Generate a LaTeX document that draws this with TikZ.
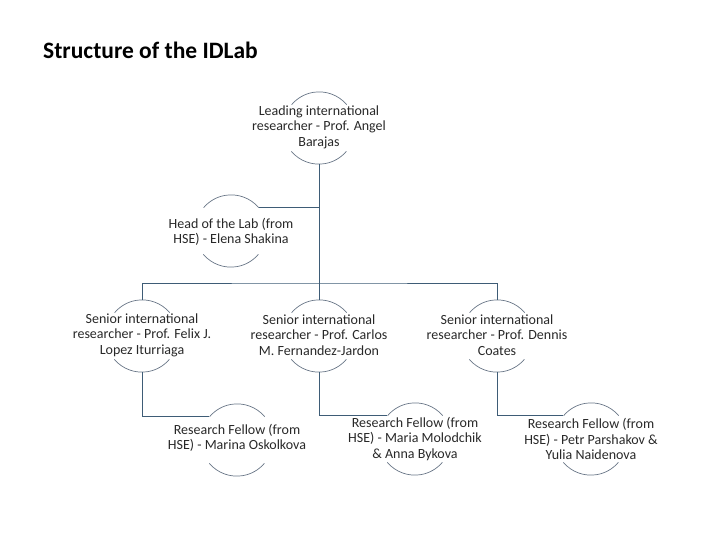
\documentclass[tikz,border=0pt]{standalone}
\usepackage{fontspec}
\setmainfont{Carlito}
\definecolor{conn}{RGB}{62,92,118}
\definecolor{arcc}{RGB}{105,118,135}
\definecolor{txt}{RGB}{40,40,40}
\begin{document}
\begin{tikzpicture}[x=1pt,y=-1pt,
  holder/.style={circle,draw=none,inner sep=0pt,minimum size=72pt},
  lbl/.style={align=center,font=\fontsize{14}{15.5}\selectfont,text=txt,inner sep=0pt},
  conline/.style={draw=conn,line width=0.9pt},
  arcline/.style={draw=arcc,line width=0.7pt}]
\useasboundingbox (0,0) rectangle (720,540);
\node[anchor=base west,font=\bfseries\fontsize{23.5}{26}\selectfont,text=black,inner sep=0pt] (title) at (43,59) {Structure of the IDLab};

\node[holder] (lead) at (319,128) {};
\node[holder] (head) at (231,231) {};
\node[holder] (sen1) at (142,336) {};
\node[holder] (sen2) at (319,336) {};
\node[holder] (sen3) at (497,336) {};
\node[holder] (rf1) at (237,440) {};
\node[holder] (rf2) at (415,439) {};
\node[holder] (rf3) at (591,439) {};

\foreach \n in {lead,head,sen1,sen2,sen3,rf1,rf2,rf3}{
  \draw[arcline] (\n.40) arc[start angle=40,end angle=140,radius=36pt];
  \draw[arcline] (\n.220) arc[start angle=220,end angle=320,radius=36pt];
}

\node[lbl] (tlead) at (319,127) {Leading international\\researcher - Prof. Angel\\Barajas};
\node[lbl] (thead) at (231,232) {Head of the Lab (from\\HSE) - Elena Shakina};
\node[lbl] (tsen1) at (142,335) {Senior international\\researcher - Prof. Felix J.\\Lopez Iturriaga};
\node[lbl] (tsen2) at (319,335) {Senior international\\researcher - Prof. Carlos\\M. Fernandez-Jardon};
\node[lbl] (tsen3) at (497,335) {Senior international\\researcher - Prof. Dennis\\Coates};
\node[lbl] (trf1) at (237,438) {Research Fellow (from\\HSE) - Marina Oskolkova};
\node[lbl] (trf2) at (415,439) {Research Fellow (from\\HSE) - Maria Molodchik\\\& Anna Bykova};
\node[lbl] (trf3) at (591,439) {Research Fellow (from\\HSE) - Petr Parshakov \&\\Yulia Naidenova};

\coordinate (br) at (319,283);
\draw[conline] (lead.south) -- (sen2.north);
\draw[conline] (head.40) -- (head.40 -| lead.south);
\draw[conline] (sen1.north) |- (br) -| (sen3.north);
\draw[conline] (sen1.south) |- (rf1.140);
\draw[conline] (sen2.south) |- (rf2.140);
\draw[conline] (sen3.south) |- (rf3.140);
\end{tikzpicture}
\end{document}
